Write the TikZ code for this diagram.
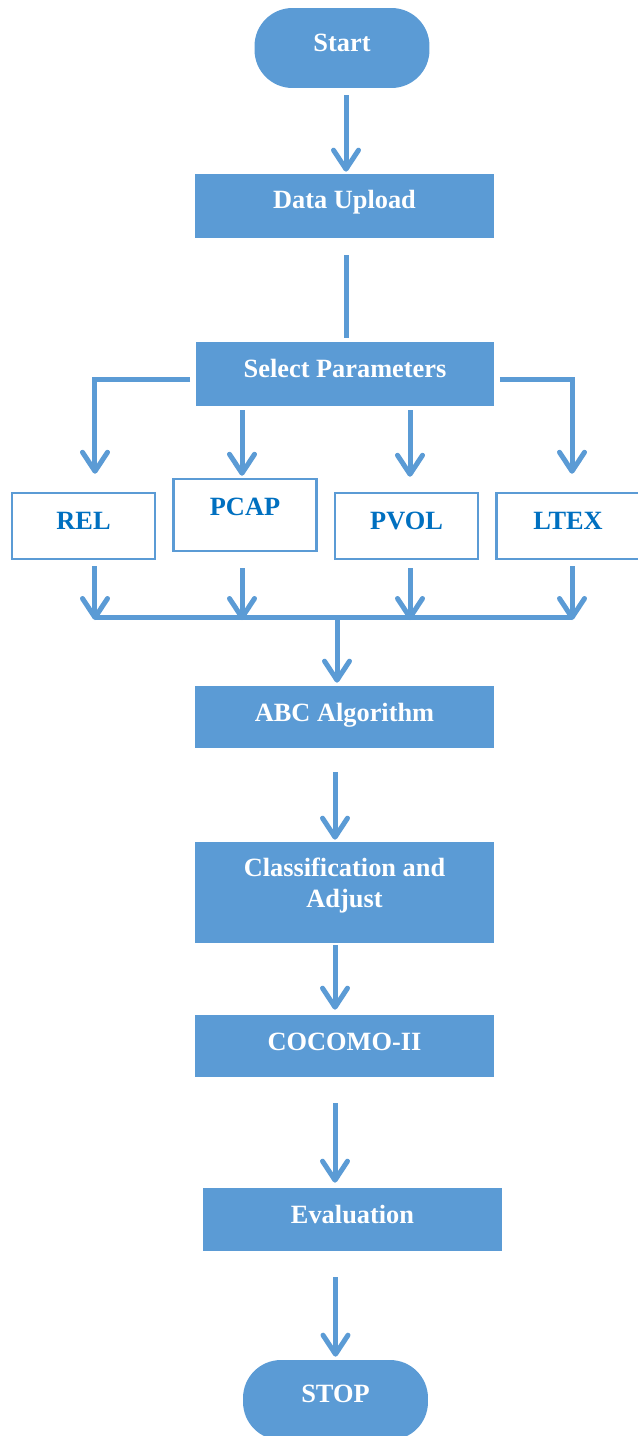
\documentclass[tikz,border=0pt]{standalone}
\usepackage{fontspec}
\setmainfont{Liberation Serif}
\usetikzlibrary{arrows.meta}
\definecolor{flowblue}{HTML}{5B9BD5}
\definecolor{paramtext}{HTML}{0070C0}
\begin{document}
\begin{tikzpicture}[x=0.02cm, y=-0.02cm,
  every node/.style={font=\fontsize{15}{17.6}\selectfont\bfseries, inner xsep=0pt, inner ysep=0pt},
  termnode/.style={fill=flowblue, text=white, rounded corners=0.76cm, minimum width=3.5cm},
  procbox/.style={fill=flowblue, text=white, minimum width=5.98cm, text height=0.7cm, text depth=0.58cm},
  parambox/.style={draw=flowblue, line width=0.05cm, fill=white, text=paramtext, minimum width=2.86cm, text height=0.72cm, text depth=0.6cm},
  conn/.style={draw=flowblue, line width=0.1cm},
  arr/.style={conn, -{Straight Barb[length=0.38cm, width=0.5cm, round]}}]
\useasboundingbox (0,0) rectangle (638,1436);
\clip (0,0) rectangle (638,1436);
\node[termnode, text height=0.88cm, text depth=0.72cm] (start) at (342,48) {Start};
\node[procbox] (upload) at (344.5,206) {Data Upload};
\node[procbox] (select) at (345,374) {Select Parameters};
\node[parambox] (rel) at (83.5,526) {REL};
\node[parambox, text depth=0.72cm] (pcap) at (245,515) {PCAP};
\node[parambox] (pvol) at (406.5,526) {PVOL};
\node[parambox] (ltex) at (568,526) {LTEX};
\coordinate (join) at (337,617);
\node[procbox, text depth=0.54cm] (abc) at (344.5,717) {ABC Algorithm};
\node[procbox, align=center, text height=1.3cm, text depth=0.72cm] (classify) at (344.5,892.5) {Classification and\\Adjust};
\node[procbox, text depth=0.54cm] (cocomo) at (344.5,1046) {COCOMO-II};
\node[procbox, text depth=0.56cm] (eval) at (352.5,1219.5) {Evaluation};
\node[termnode, text height=0.84cm, text depth=0.76cm, minimum width=3.7cm] (stop) at (335.5,1400) {STOP};
\draw[arr, shorten <=0.14cm, shorten >=0.04cm] ([xshift=0.08cm]start.south) -- ([xshift=0.08cm]start.south |- upload.north);
\draw[conn, shorten <=0.34cm, shorten >=0.08cm] ([xshift=0.03cm]upload.south) -- ([xshift=0.03cm]upload.south |- select.north);
\draw[arr, shorten <=0.1cm, shorten >=0.36cm] ([yshift=-0.1cm]select.west) -| ([xshift=0.23cm]rel.north);
\draw[arr, shorten <=0.1cm, shorten >=0.36cm] ([yshift=-0.1cm]select.east) -| ([xshift=0.08cm]ltex.north);
\draw[arr, shorten <=0.08cm, shorten >=0.04cm] ([xshift=-0.06cm]pcap.north |- select.south) -- ([xshift=-0.06cm]pcap.north);
\draw[arr, shorten <=0.08cm, shorten >=0.3cm] ([xshift=0.07cm]pvol.north |- select.south) -- ([xshift=0.07cm]pvol.north);
\draw[arr, shorten <=0.12cm, shorten >=-0.06cm] ([xshift=0.23cm]rel.south) -- ([xshift=0.23cm]rel.south |- join);
\draw[arr, shorten <=0.32cm, shorten >=-0.06cm] ([xshift=-0.06cm]pcap.south) -- ([xshift=-0.06cm]pcap.south |- join);
\draw[arr, shorten <=0.16cm, shorten >=-0.06cm] ([xshift=0.07cm]pvol.south) -- ([xshift=0.07cm]pvol.south |- join);
\draw[arr, shorten <=0.12cm, shorten >=-0.06cm] ([xshift=0.08cm]ltex.south) -- ([xshift=0.08cm]ltex.south |- join);
\draw[conn] ([xshift=0.23cm]rel.south |- join) -- ([xshift=0.08cm]ltex.south |- join);
\draw[arr, shorten <=0.04cm, shorten >=0.06cm] (join) -- (join |- abc.north);
\draw[arr, shorten <=0.48cm, shorten >=0.04cm] ([xshift=-0.19cm]abc.south) -- ([xshift=-0.19cm]abc.south |- classify.north);
\draw[arr, shorten <=0.04cm, shorten >=0.1cm] ([xshift=-0.19cm]classify.south) -- ([xshift=-0.19cm]classify.south |- cocomo.north);
\draw[arr, shorten <=0.52cm, shorten >=0.1cm] ([xshift=-0.19cm]cocomo.south) -- ([xshift=-0.19cm]cocomo.south |- eval.north);
\draw[arr, shorten <=0.52cm, shorten >=0.06cm] (stop.north |- eval.south) -- (stop.north);
\end{tikzpicture}
\end{document}
